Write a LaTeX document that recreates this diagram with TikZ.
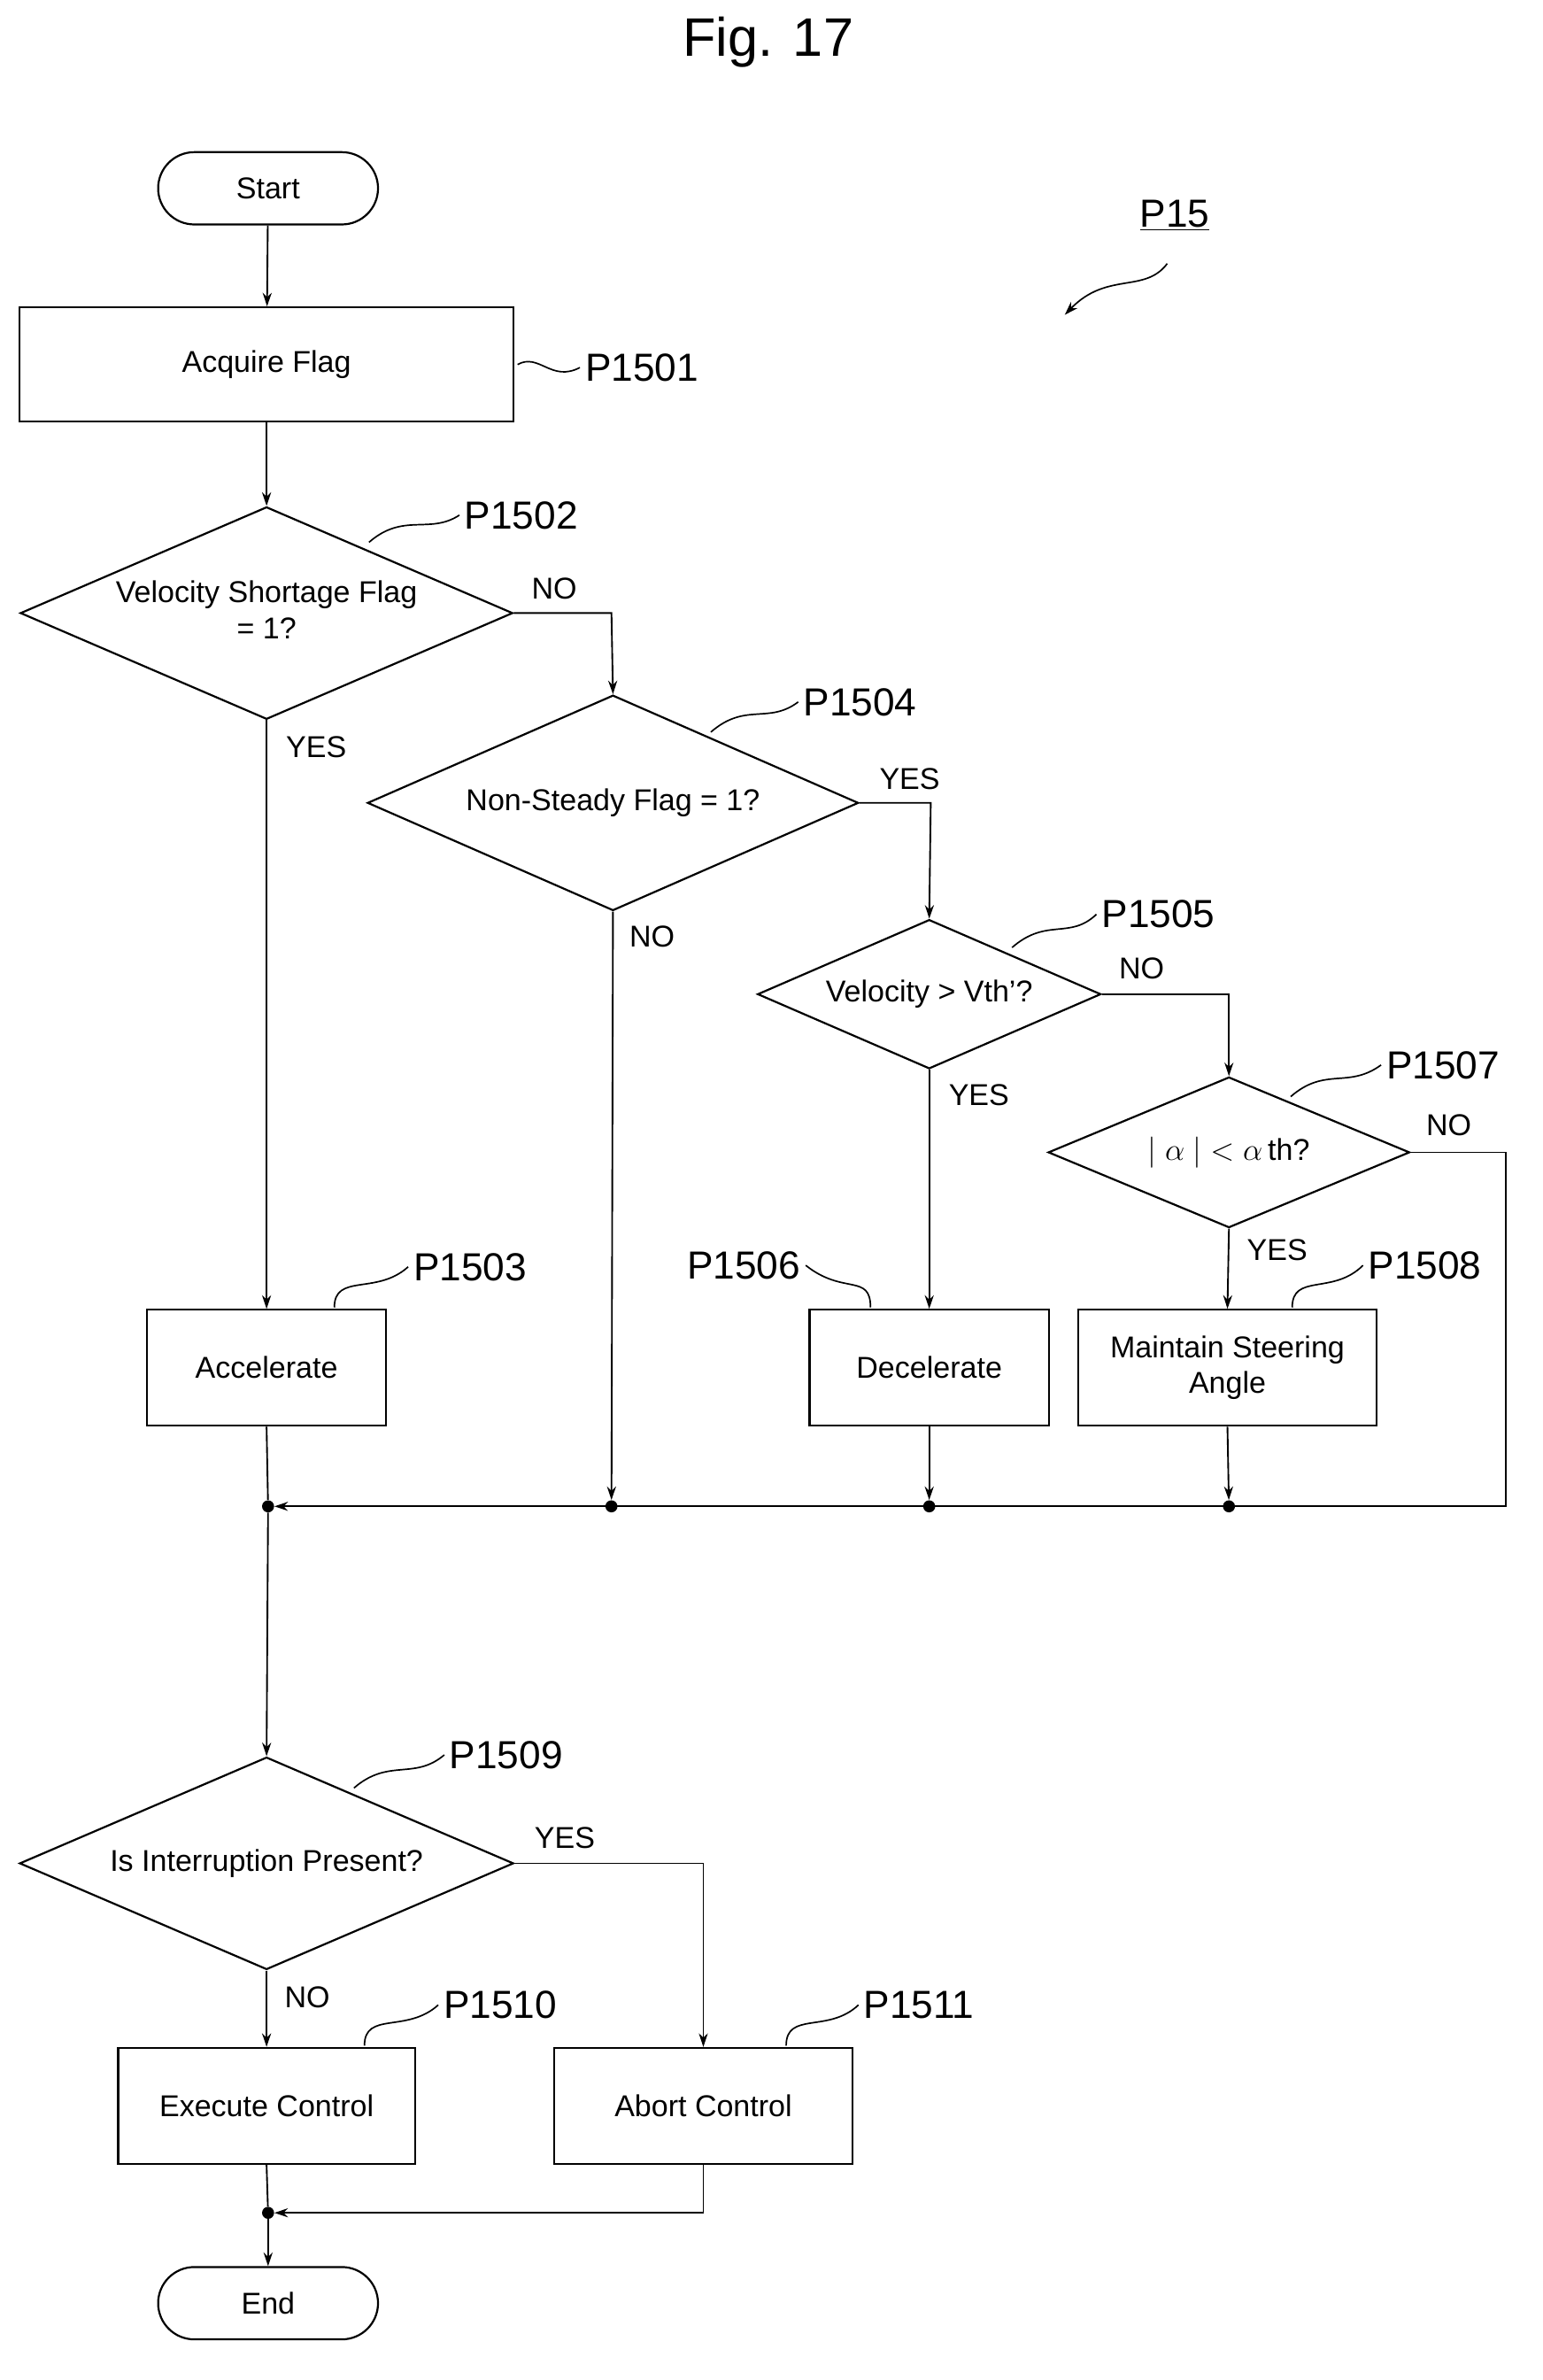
\documentclass[tikz,border=0pt]{standalone}
\usepackage{fontspec}
\setmainfont{Liberation Sans}
\usetikzlibrary{shapes.geometric,arrows.meta}
\begin{document}
\begin{tikzpicture}[x=1pt,y=-1pt,
  every node/.style={font=\fontsize{20}{24}\selectfont},
  box/.style={draw,line width=1.3pt,inner sep=0,align=center},
  dia/.style={draw,diamond,line width=1.3pt,inner sep=0},
  term/.style={draw,rounded rectangle,line width=1.3pt,minimum width=146,minimum height=48,inner sep=0},
  lbl/.style={font=\fontsize{26}{30}\selectfont,anchor=west},
  yn/.style={font=\fontsize{20}{24}\selectfont},
  ln/.style={line width=1.1pt},
  arr/.style={ln,-{Stealth[length=9pt,width=6pt]}},
  lead/.style={line width=1pt},
  dot/.style={circle,fill,inner sep=0,minimum size=8}]
\useasboundingbox (0,0) rectangle (1024,1580);
\usetikzlibrary{shapes.misc}
\node[font=\fontsize{36}{40}\selectfont] (title) at (510,28) {Fig. 17};
\node[term] (start) at (178,125) {Start};
\node[box,minimum width=328,minimum height=76] (p1501) at (177,242) {Acquire Flag};
\node[dia,minimum width=327,minimum height=141,label=center:{\begin{tabular}{c}Velocity Shortage Flag\\= 1?\end{tabular}}] (p1502) at (177,407) {};
\node[dia,minimum width=326,minimum height=143,label=center:{Non-Steady Flag = 1?}] (p1504) at (407,533) {};
\node[dia,minimum width=228,minimum height=99,label=center:{Velocity > Vth'?}] (p1505) at (617,660) {};
\node[dia,minimum width=240,minimum height=100,label=center:{$|\ \alpha\ |<\alpha\,$th?}] (p1507) at (816,765) {};
\node[box,minimum width=159,minimum height=77] (p1503) at (177,908) {Accelerate};
\node[box,minimum width=159,minimum height=77] (p1506) at (617,908) {Decelerate};
\node[box,minimum width=198,minimum height=77] (p1508) at (815,908) {Maintain Steering\\Angle};
\node[dot] (j0) at (178,1000) {};
\node[dot] (j1) at (406,1000) {};
\node[dot] (j2) at (617,1000) {};
\node[dot] (j3) at (816,1000) {};
\node[dia,minimum width=328,minimum height=141,label=center:{Is Interruption Present?}] (p1509) at (177,1237) {};
\node[box,minimum width=197,minimum height=77] (p1510) at (177,1398) {Execute Control};
\node[box,minimum width=198,minimum height=77] (p1511) at (467,1398) {Abort Control};
\node[dot] (j4) at (178,1469) {};
\node[term] (end) at (178,1529) {End};
% flow
\draw[arr] (start) -- (p1501);
\draw[arr] (p1501) -- (p1502.north);
\draw[arr] (p1502.east) -- (406,407) -- (p1504.north);
\draw[arr] (p1502.south) -- (p1503.north);
\draw[arr] (p1504.east) -- (618,533) -- (p1505.north);
\draw[arr] (p1504.south) -- (j1);
\draw[arr] (p1505.east) -- (816,660) -- (p1507.north);
\draw[arr] (p1505.south) -- (p1506.north);
\draw[arr] (p1507.south) -- (p1508.north);
\draw[ln] (p1503.south) -- (j0);
\draw[arr] (p1506.south) -- (j2);
\draw[arr] (p1508.south) -- (j3);
\draw[arr] (p1507.east) -- (1000,765) -- (1000,1000) -- (j0);
\draw[arr] (j0) -- (p1509.north);
\draw[arr] (p1509.east) -- (467,1237) -- (p1511.north);
\draw[arr] (p1509.south) -- (p1510.north);
\draw[ln] (p1510.south) -- (j4);
\draw[arr] (p1511.south) -- (467,1469) -- (j4);
\draw[arr] (j4) -- (end);
% yes/no
\node[yn] at (368,391) {NO};
\node[yn] at (210,496) {YES};
\node[yn] at (604,517) {YES};
\node[yn] at (433,622) {NO};
\node[yn] at (758,643) {NO};
\node[yn] at (650,727) {YES};
\node[yn] at (962,747) {NO};
\node[yn] at (848,830) {YES};
\node[yn] at (375,1220) {YES};
\node[yn] at (204,1326) {NO};
% step labels with leaders
\node[lbl] (l1501) at (385,244) {P1501};
\draw[lead] (p1501.east) ++(2,0) .. controls (358,234) and (366,254) .. (l1501.west);
\node[lbl] (l1502) at (305,342) {P1502};
\draw[lead] (245,360) .. controls (268,340) and (285,355) .. (l1502.west);
\node[lbl] (l1504) at (530,466) {P1504};
\draw[lead] (472,486) .. controls (495,466) and (510,481) .. (l1504.west);
\node[lbl] (l1505) at (728,607) {P1505};
\draw[lead] (672,629) .. controls (695,609) and (710,624) .. (l1505.west);
\node[lbl] (l1507) at (917,707) {P1507};
\draw[lead] (857,728) .. controls (880,708) and (895,723) .. (l1507.west);
\node[lbl] (l1503) at (271,841) {P1503};
\draw[lead] (222,868) .. controls (222,845) and (250,860) .. (l1503.west);
\node[lbl,anchor=east] (l1506) at (535,840) {P1506};
\draw[lead] (l1506.east) .. controls (560,860) and (578,845) .. (578,868);
\node[lbl] (l1508) at (905,840) {P1508};
\draw[lead] (858,868) .. controls (858,845) and (885,860) .. (l1508.west);
\node[lbl] (l1509) at (295,1165) {P1509};
\draw[lead] (235,1187) .. controls (258,1167) and (275,1182) .. (l1509.west);
\node[lbl] (l1510) at (291,1331) {P1510};
\draw[lead] (242,1358) .. controls (242,1335) and (270,1350) .. (l1510.west);
\node[lbl] (l1511) at (570,1331) {P1511};
\draw[lead] (522,1358) .. controls (522,1335) and (550,1350) .. (l1511.west);
% P15
\node[font=\fontsize{26}{30}\selectfont] (p15) at (780,143) {\underline{P15}};
\coordinate (p15a) at (775,175);
\coordinate (p15b) at (707,209);
\draw[lead,-{Stealth[length=9pt,width=6pt]}] (p15a) .. controls (760,195) and (735,180) .. (p15b);
\end{tikzpicture}
\end{document}
